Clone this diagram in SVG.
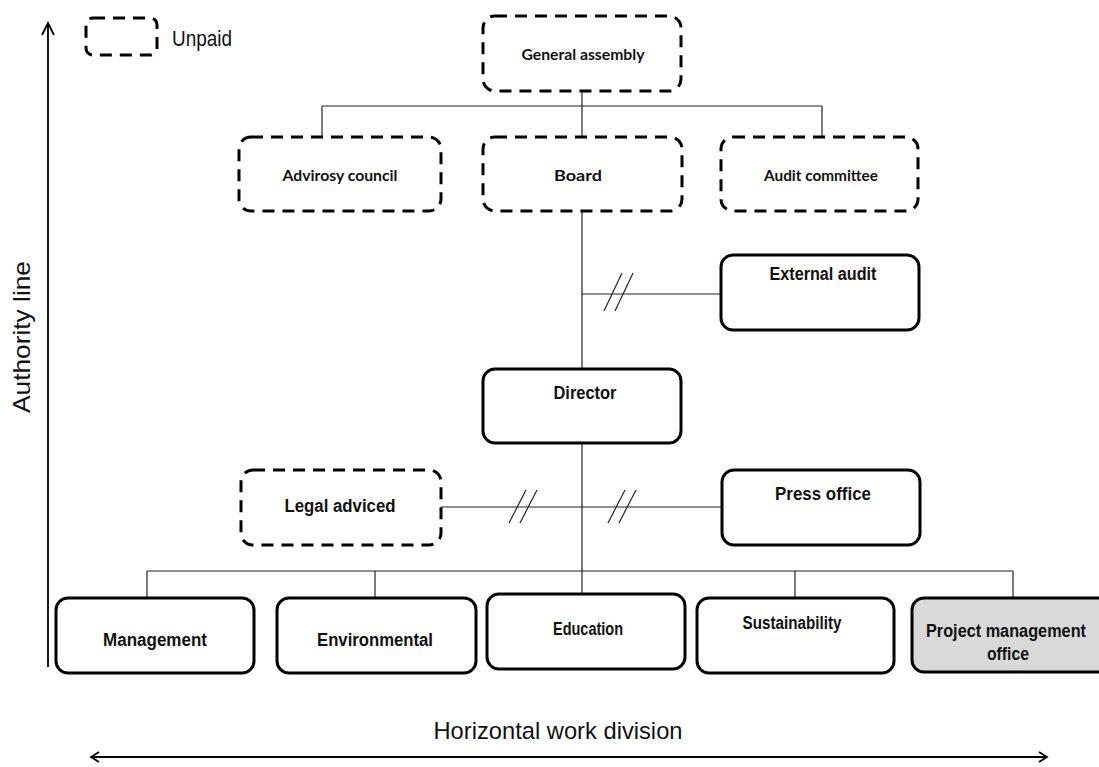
<svg xmlns="http://www.w3.org/2000/svg" width="1099" height="767" viewBox="0 0 1099 767">
  <style>
    .unpaid { fill: #ffffff; stroke: #000000; stroke-width: 3; stroke-dasharray: 12 8; }
    .paid { fill: #ffffff; stroke: #000000; stroke-width: 3; }
    .pmo { fill: #d9d9d9; stroke: #000000; stroke-width: 3; }
    .wire { fill: none; stroke: #222222; stroke-width: 1.2; }
    .axis { fill: none; stroke: #000000; stroke-width: 1.8; }
    .cal { font-family: Lato, "Open Sans", sans-serif; font-weight: 700; font-size: 16px; fill: #111111; text-anchor: middle; }
    .ari { font-family: "Liberation Sans", Arial, sans-serif; font-weight: 700; font-size: 18px; fill: #111111; text-anchor: middle; }
    .lbl { font-family: "Liberation Sans", Arial, sans-serif; font-size: 24px; fill: #111111; text-anchor: middle; }
  </style>

  <!-- axes -->
  <g id="axes">
    <line class="axis" x1="48" y1="667" x2="48" y2="23"/>
    <polyline class="axis" points="42,35 48,23 54,35"/>
    <text class="lbl" transform="translate(30,337) rotate(-90)" textLength="152" lengthAdjust="spacingAndGlyphs">Authority line</text>
    <line class="axis" x1="91" y1="757" x2="1047" y2="757"/>
    <polyline class="axis" points="99,752 91,757 99,762"/>
    <polyline class="axis" points="1039,752 1047,757 1039,762"/>
    <text class="lbl" x="558" y="739" textLength="249" lengthAdjust="spacingAndGlyphs">Horizontal work division</text>
  </g>

  <!-- legend -->
  <g id="legend">
    <rect class="unpaid" x="86" y="18" width="71" height="37" rx="7"/>
    <text class="lbl" x="202" y="46" style="font-size:22px" textLength="60" lengthAdjust="spacingAndGlyphs">Unpaid</text>
  </g>

  <!-- connectors -->
  <g id="connectors">
    <line class="wire" x1="582" y1="91" x2="582" y2="106"/>
    <line class="wire" x1="322" y1="106" x2="822" y2="106"/>
    <line class="wire" x1="322" y1="106" x2="322" y2="137"/>
    <line class="wire" x1="582" y1="106" x2="582" y2="137"/>
    <line class="wire" x1="822" y1="106" x2="822" y2="137"/>
    <line class="wire" x1="582" y1="211" x2="582" y2="368"/>
    <line class="wire" x1="582" y1="294" x2="721" y2="294"/>
    <line class="wire" x1="604" y1="311" x2="622" y2="273"/>
    <line class="wire" x1="615" y1="311" x2="633" y2="273"/>
    <line class="wire" x1="582" y1="443" x2="582" y2="594"/>
    <line class="wire" x1="441" y1="507" x2="722" y2="507"/>
    <line class="wire" x1="509" y1="523" x2="526" y2="490"/>
    <line class="wire" x1="520" y1="523" x2="537" y2="490"/>
    <line class="wire" x1="608" y1="523" x2="625" y2="490"/>
    <line class="wire" x1="619" y1="523" x2="636" y2="490"/>
    <line class="wire" x1="147" y1="571" x2="1013" y2="571"/>
    <line class="wire" x1="147" y1="571" x2="147" y2="598"/>
    <line class="wire" x1="375" y1="571" x2="375" y2="598"/>
    <line class="wire" x1="795" y1="571" x2="795" y2="598"/>
    <line class="wire" x1="1013" y1="571" x2="1013" y2="598"/>
  </g>

  <!-- governing bodies (unpaid) -->
  <g id="general-assembly">
    <rect class="unpaid" x="483" y="16" width="198" height="75" rx="12"/>
    <text class="cal" x="583" y="60" textLength="123" lengthAdjust="spacingAndGlyphs">General assembly</text>
  </g>
  <g id="advisory-council">
    <rect class="unpaid" x="239" y="137" width="202" height="74" rx="12"/>
    <text class="cal" x="340" y="181" textLength="115" lengthAdjust="spacingAndGlyphs">Advirosy council</text>
  </g>
  <g id="board">
    <rect class="unpaid" x="483" y="137" width="199" height="74" rx="12"/>
    <text class="cal" x="578" y="181" textLength="48" lengthAdjust="spacingAndGlyphs">Board</text>
  </g>
  <g id="audit-committee">
    <rect class="unpaid" x="721" y="137" width="197" height="74" rx="12"/>
    <text class="cal" x="821" y="181" textLength="114" lengthAdjust="spacingAndGlyphs">Audit committee</text>
  </g>

  <!-- staff units -->
  <g id="external-audit">
    <rect class="paid" x="721" y="255" width="198" height="75" rx="12"/>
    <text class="ari" x="823" y="280" textLength="107" lengthAdjust="spacingAndGlyphs">External audit</text>
  </g>
  <g id="director">
    <rect class="paid" x="483" y="369" width="198" height="74" rx="12"/>
    <text class="ari" x="585" y="399" textLength="63" lengthAdjust="spacingAndGlyphs">Director</text>
  </g>
  <g id="legal-adviced">
    <rect class="unpaid" x="241" y="470" width="200" height="75" rx="12"/>
    <text class="ari" x="340" y="512" textLength="111" lengthAdjust="spacingAndGlyphs">Legal adviced</text>
  </g>
  <g id="press-office">
    <rect class="paid" x="722" y="470" width="198" height="75" rx="12"/>
    <text class="ari" x="823" y="500" textLength="96" lengthAdjust="spacingAndGlyphs">Press office</text>
  </g>

  <!-- departments -->
  <g id="management">
    <rect class="paid" x="56" y="598" width="198" height="75" rx="12"/>
    <text class="ari" x="155" y="646" textLength="104" lengthAdjust="spacingAndGlyphs">Management</text>
  </g>
  <g id="environmental">
    <rect class="paid" x="277" y="598" width="199" height="75" rx="12"/>
    <text class="ari" x="375" y="646" textLength="116" lengthAdjust="spacingAndGlyphs">Environmental</text>
  </g>
  <g id="education">
    <rect class="paid" x="487" y="594" width="198" height="75" rx="12"/>
    <text class="ari" x="588" y="635" textLength="70" lengthAdjust="spacingAndGlyphs">Education</text>
  </g>
  <g id="sustainability">
    <rect class="paid" x="697" y="598" width="197" height="75" rx="12"/>
    <text class="ari" x="792" y="629" textLength="99" lengthAdjust="spacingAndGlyphs">Sustainability</text>
  </g>
  <g id="project-management-office">
    <rect class="pmo" x="912" y="598" width="200" height="74" rx="12"/>
    <text class="ari" x="1006" y="637" textLength="160" lengthAdjust="spacingAndGlyphs">Project management</text>
    <text class="ari" x="1008" y="660" textLength="42" lengthAdjust="spacingAndGlyphs">office</text>
  </g>
</svg>
